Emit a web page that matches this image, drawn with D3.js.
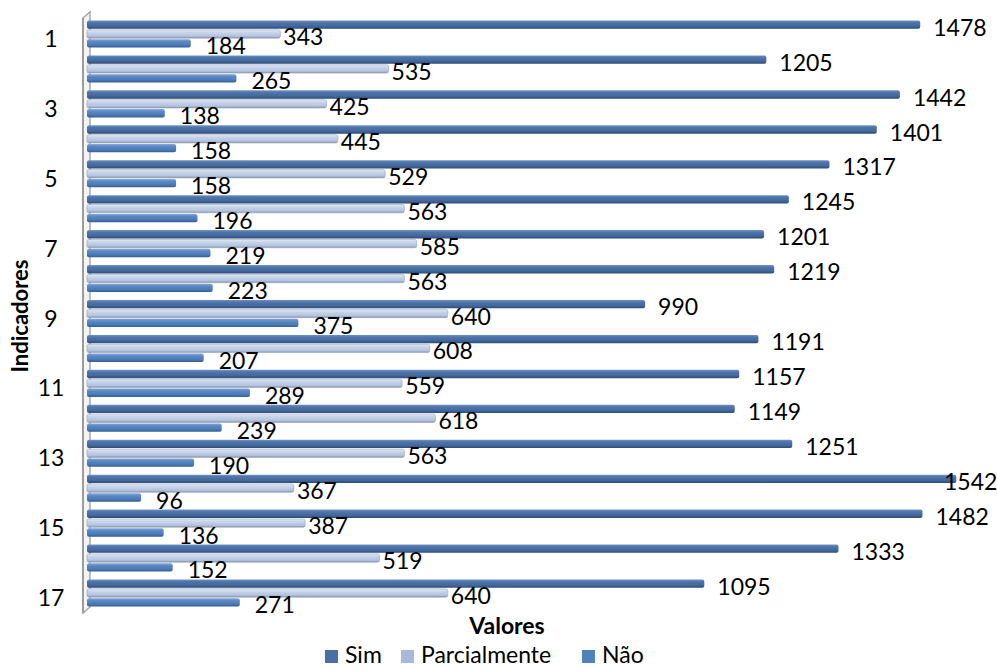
<!DOCTYPE html>
<html>
<head>
<meta charset="utf-8">
<script src="https://cdn.jsdelivr.net/npm/d3@7"></script>
<style>
  body { margin: 0; background: #fff; }
  svg { display: block; font-family: Lato, "Open Sans", sans-serif; }
</style>
</head>
<body>
<script>
var width = 997,
  height = 669;

// indicadores 1..17
var indicadores = d3.range(1, 18);
var sim = [1478, 1205, 1442, 1401, 1317, 1245, 1201, 1219, 990, 1191, 1157, 1149, 1251, 1542, 1482, 1333, 1095];
var parcialmente = [343, 535, 425, 445, 529, 563, 585, 563, 640, 608, 559, 618, 563, 367, 387, 519, 640];
var nao = [184, 265, 138, 158, 158, 196, 219, 223, 375, 207, 289, 239, 190, 96, 136, 152, 271];
var seriesNames = ["Sim", "Parcialmente", "Não"];
var tickLabels = indicadores.filter(function (d) { return d % 2 === 1; });

var series = [
  { name: "Sim", values: sim, key: "sim", legend: "#4a6fa5", dx: 13 },
  { name: "Parcialmente", values: parcialmente, key: "parc", legend: "#a9b9d9", dx: 3 },
  { name: "Não", values: nao, key: "nao", legend: "#4f81bd", dx: 15 }
];

var svg = d3.select("body").append("svg")
  .attr("width", width)
  .attr("height", height);

// gradients to fake the 3D cylinder look
var defs = svg.append("defs");
var grads = {
  sim: [["0", "#7193c3"], ["0.25", "#4f76ac"], ["0.7", "#42679b"], ["1", "#2d4a74"]],
  parc: [["0", "#e4ebf6"], ["0.3", "#c8d5ea"], ["0.75", "#b4c4df"], ["1", "#8794ad"]],
  nao: [["0", "#86a9d7"], ["0.3", "#5a88c4"], ["0.7", "#4c7ab5"], ["1", "#355e93"]]
};
Object.keys(grads).forEach(function (k) {
  var g = defs.append("linearGradient").attr("id", "g-" + k)
    .attr("x1", 0).attr("y1", 0).attr("x2", 0).attr("y2", 1);
  grads[k].forEach(function (s) {
    g.append("stop").attr("offset", s[0]).attr("stop-color", s[1]);
  });
});

var x = d3.scaleLinear().domain([0, 1600]).range([87, 989]);

var y = d3.scaleBand()
  .domain(indicadores)
  .range([20.5, 606.5])
  .paddingInner(0.227);

var inner = d3.scaleBand()
  .domain(seriesNames)
  .range([0, y.bandwidth()])
  .paddingInner(0.11);

// left wall
svg.append("path")
  .attr("d", "M83,613L83,18L90,12L90,607Z")
  .attr("fill", "#f4f4f4")
  .attr("stroke", "#a8a8a8")
  .attr("stroke-width", 1.5);
svg.append("line")
  .attr("x1", 83).attr("y1", 18).attr("x2", 83).attr("y2", 613)
  .attr("stroke", "#9c9c9c").attr("stroke-width", 2);

var group = svg.append("g").selectAll("g")
  .data(indicadores)
  .enter()
  .append("g")
  .attr("transform", function (d) { return "translate(0," + y(d) + ")"; });

series.forEach(function (s) {
  group.append("rect")
    .attr("x", x(0))
    .attr("y", inner(s.name))
    .attr("height", inner.bandwidth())
    .attr("width", function (d, i) { return x(s.values[i]) - x(0); })
    .attr("rx", 2)
    .attr("fill", "url(#g-" + s.key + ")")
    .attr("stroke", s.key === "parc" ? "#97a3ba" : "none")
    .attr("stroke-width", 0.6);

  group.append("text")
    .attr("x", function (d, i) {
      return Math.min(x(s.values[i]) + s.dx, width - 53);
    })
    .attr("y", inner(s.name) + inner.bandwidth() / 2 + 3)
    .attr("dy", "0.35em")
    .style("font-size", "23px")
    .attr("fill", "#000")
    .text(function (d, i) { return s.values[i]; });
});

// y tick labels (only odd ones, like the original)
svg.append("g").selectAll("text")
  .data(tickLabels)
  .enter()
  .append("text")
  .attr("x", 51)
  .attr("y", function (d) { return y(d) + y.bandwidth() / 2 + 5; })
  .attr("dy", "0.35em")
  .attr("text-anchor", "middle")
  .style("font-size", "23px")
  .text(function (d) { return d; });

// axis titles
svg.append("text")
  .attr("transform", "translate(28,316) rotate(-90)")
  .attr("text-anchor", "middle")
  .style("font-size", "22px")
  .style("font-weight", "bold")
  .text("Indicadores");

svg.append("text")
  .attr("x", 507)
  .attr("y", 634)
  .attr("text-anchor", "middle")
  .style("font-size", "23px")
  .style("font-weight", "bold")
  .text("Valores");

// legend
var legendX = [325, 401, 582];
var legend = svg.append("g").selectAll("g")
  .data(series)
  .enter()
  .append("g")
  .attr("transform", function (d, i) { return "translate(" + legendX[i] + ",650)"; });
legend.append("rect")
  .attr("width", 13).attr("height", 13)
  .attr("fill", function (d) { return d.legend; });
legend.append("text")
  .attr("x", 20)
  .attr("y", 13)
  .style("font-size", "23px")
  .text(function (d) { return d.name; });
</script>
</body>
</html>
